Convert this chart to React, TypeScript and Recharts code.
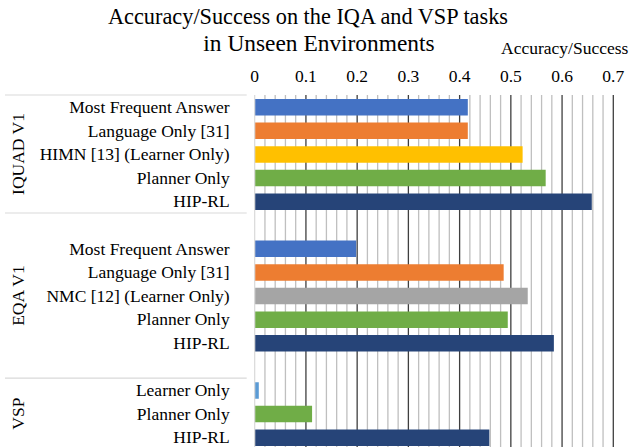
import React from 'react';
import { BarChart, Bar, XAxis, YAxis, CartesianGrid, Cell } from 'recharts';

const rowKeys = ['iq-mfa', 'iq-lang', 'iq-himn', 'iq-plan', 'iq-hip', 'gap-1', 'eq-mfa', 'eq-lang', 'eq-nmc', 'eq-plan', 'eq-hip', 'gap-2', 'vsp-learn', 'vsp-plan', 'vsp-hip'];
const rowLabels = ['Most Frequent Answer', 'Language Only [31]', 'HIMN [13] (Learner Only)', 'Planner Only', 'HIP-RL', '', 'Most Frequent Answer', 'Language Only [31]', 'NMC [12] (Learner Only)', 'Planner Only', 'HIP-RL', '', 'Learner Only', 'Planner Only', 'HIP-RL'];
const rowValues: (number | null)[] = [0.416, 0.416, 0.523, 0.568, 0.658, null, 0.198, 0.486, 0.533, 0.494, 0.584, null, 0.008, 0.112, 0.458];
const rowColors = ['#4472C4', '#ED7D31', '#FFC000', '#70AD47', '#264478', '#FFFFFF', '#4472C4', '#ED7D31', '#A5A5A5', '#70AD47', '#264478', '#FFFFFF', '#5B9BD5', '#70AD47', '#264478'];
const groups = [
  { label: 'IQUAD V1', first: 0, last: 4 },
  { label: 'EQA V1', first: 5, last: 11 },
  { label: 'VSP', first: 12, last: 14 },
];
const majorTicks = [0, 0.1, 0.2, 0.3, 0.4, 0.5, 0.6, 0.7];
const majorGrid = [0.1, 0.2, 0.3, 0.4, 0.5, 0.6, 0.7];
const minorGrid = [0.02, 0.04, 0.06, 0.08, 0.12, 0.14, 0.16, 0.18, 0.22, 0.24, 0.26, 0.28, 0.32, 0.34, 0.36, 0.38, 0.42, 0.44, 0.46, 0.48, 0.52, 0.54, 0.56, 0.58, 0.62, 0.64, 0.66, 0.68];
const tickLabels = ['0', '0.1', '0.2', '0.3', '0.4', '0.5', '0.6', '0.7'];
const titleLines = ['Accuracy/Success on the IQA and VSP tasks', 'in Unseen Environments'];
const axisTitle = 'Accuracy/Success';

const data = rowKeys.map((key, i) => ({ key, label: rowLabels[i], value: rowValues[i] }));

const FONT = "'Liberation Serif', 'Times New Roman', serif";
const W = 631;
const H = 450;
const MARGIN = { top: 65, right: 17.7, bottom: 1, left: 0 };
const XAXIS_H = 30;
const YAXIS_W = 254.7;
const PLOT_H = H - MARGIN.top - MARGIN.bottom - XAXIS_H;
const ROW_H = PLOT_H / rowKeys.length;

const XTick = (props: any) => {
  const { x, payload } = props;
  const idx = majorTicks.indexOf(payload.value);
  return (
    <text x={x} y={82} textAnchor="middle" fontSize={17.5} fontFamily={FONT} fill="#000">
      {idx >= 0 ? tickLabels[idx] : ''}
    </text>
  );
};

const YTick = (props: any) => {
  const { x, y, index } = props;
  const label = rowLabels[index] ?? '';
  const items: React.ReactNode[] = [];
  items.push(
    <text key="l" x={x - 17} y={y + 6.2} textAnchor="end" fontSize={17.5} fontFamily={FONT} fill="#000">
      {label}
    </text>
  );
  groups.forEach((g, gi) => {
    if (index === g.first) {
      items.push(<line key={'s' + gi} x1={5} x2={x} y1={y - ROW_H / 2} y2={y - ROW_H / 2} stroke="#d9d9d9" strokeWidth={1.2} />);
    }
    if (index === (g.first + g.last) / 2) {
      items.push(
        <text key={'g' + gi} x={24} y={y} textAnchor="middle" fontSize={17.5} fontFamily={FONT} fill="#000" transform={`rotate(-90, 24, ${y})`}>
          {g.label}
        </text>
      );
    }
  });
  return <g>{items}</g>;
};

export default function App() {
  return (
    <div style={{ position: 'fixed', left: 0, top: 0, width: W, height: 447, overflow: 'hidden', background: '#fff' }}>
      <BarChart width={W} height={H} data={data} layout="vertical" margin={MARGIN} barCategoryGap={0} style={{ fontFamily: FONT }}>
        <CartesianGrid horizontal={false} vertical={true} verticalValues={minorGrid} stroke="#bfbfbf" strokeWidth={1.3} />
        <CartesianGrid horizontal={false} vertical={true} verticalValues={majorGrid} stroke="#3f3f3f" strokeWidth={1.3} />
        <XAxis type="number" orientation="top" domain={[0, 0.7]} ticks={majorTicks} interval={0} height={XAXIS_H} axisLine={false} tickLine={false} tick={<XTick />} />
        <YAxis type="category" dataKey="key" width={YAXIS_W} interval={0} tickLine={false} axisLine={{ stroke: '#d9d9d9', strokeWidth: 1.2 }} tick={<YTick />} />
        <Bar dataKey="value" barSize={16.5} isAnimationActive={false}>
          {data.map((d, i) => (
            <Cell key={d.key} fill={rowColors[i]} />
          ))}
        </Bar>
      </BarChart>
      <svg width={W} height={90} style={{ position: 'absolute', left: 0, top: 0, pointerEvents: 'none' }}>
        <text x={308} y={24} textAnchor="middle" fontSize={22.3} fontFamily={FONT} fill="#000">{titleLines[0]}</text>
        <text x={319} y={50.7} textAnchor="middle" fontSize={23.4} fontFamily={FONT} fill="#000">{titleLines[1]}</text>
        <text x={501} y={54} textAnchor="start" fontSize={17.5} fontFamily={FONT} fill="#000">{axisTitle}</text>
      </svg>
    </div>
  );
}
